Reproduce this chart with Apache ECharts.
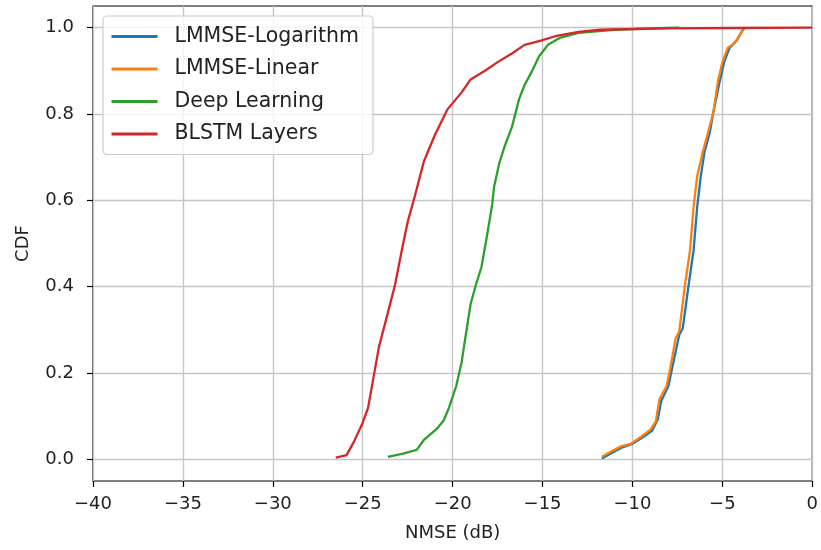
<!DOCTYPE html>
<html>
<head>
<meta charset="utf-8">
<script src="https://cdn.jsdelivr.net/npm/echarts@6/dist/echarts.min.js"></script>
<style>
  html, body { margin: 0; padding: 0; background: #fff; }
  #chart { width: 821px; height: 550px; }
</style>
</head>
<body>
<div id="chart"></div>
<script>
// series names
var seriesNames = ['LMMSE-Logarithm', 'LMMSE-Linear', 'Deep Learning', 'BLSTM Layers'];

// LMMSE-Logarithm (NMSE dB, CDF)
var logX = [-11.7, -11.1, -10.56, -10.0, -9.4, -8.9, -8.6, -8.4, -8.0, -7.8, -7.4, -7.2, -6.9, -6.6, -6.4, -6.2, -6.0, -5.7, -5.5, -5.15, -4.9, -4.6, -4.2, -3.85, -3.75];
var logY = [0.002, 0.016, 0.028, 0.036, 0.052, 0.067, 0.092, 0.135, 0.17, 0.21, 0.288, 0.304, 0.397, 0.484, 0.585, 0.656, 0.71, 0.757, 0.804, 0.875, 0.92, 0.953, 0.97, 0.996, 1.0];

// LMMSE-Linear
var linX = [-11.7, -11.2, -10.65, -10.1, -9.5, -9.0, -8.7, -8.5, -8.1, -7.9, -7.6, -7.4, -7.1, -6.8, -6.6, -6.4, -6.1, -5.8, -5.5, -5.25, -5.0, -4.7, -4.3, -3.9, -3.85];
var linY = [0.006, 0.018, 0.03, 0.036, 0.053, 0.069, 0.088, 0.139, 0.17, 0.21, 0.28, 0.296, 0.397, 0.484, 0.585, 0.656, 0.71, 0.757, 0.804, 0.875, 0.92, 0.953, 0.965, 0.992, 1.0];

// Deep Learning
var dlX = [-23.6, -22.7, -22.0, -21.6, -20.9, -20.5, -20.2, -19.8, -19.5, -19.3, -19.0, -18.7, -18.4, -18.1, -17.8, -17.7, -17.4, -17.1, -16.7, -16.3, -16.0, -15.6, -15.2, -14.7, -14.0, -13.0, -11.0, -9.0, -7.4];
var dlY = [0.006, 0.014, 0.022, 0.045, 0.07, 0.09, 0.12, 0.17, 0.225, 0.28, 0.36, 0.405, 0.445, 0.515, 0.59, 0.63, 0.687, 0.726, 0.77, 0.835, 0.867, 0.898, 0.933, 0.96, 0.977, 0.988, 0.995, 0.998, 1.0];

// BLSTM Layers
var blX = [-26.5, -25.9, -25.5, -25.0, -24.7, -24.4, -24.1, -23.6, -23.2, -22.8, -22.5, -22.1, -21.6, -21.0, -20.3, -19.5, -19.0, -18.2, -17.5, -16.7, -16.0, -15.1, -14.3, -13.0, -11.8, -8.0, -4.0, 0.0];
var blY = [0.004, 0.01, 0.04, 0.085, 0.12, 0.19, 0.26, 0.34, 0.405, 0.49, 0.55, 0.61, 0.69, 0.75, 0.81, 0.85, 0.88, 0.90, 0.92, 0.94, 0.96, 0.97, 0.98, 0.99, 0.995, 0.998, 0.999, 1.0];

var colors = ['#1f77b4', '#ff7f0e', '#2ca02c', '#d62728'];
var font = 'DejaVu Sans';

function pairs(xs, ys) {
    return xs.map(function (x, i) { return [x, ys[i]]; });
}

var curves = [pairs(logX, logY), pairs(linX, linY), pairs(dlX, dlY), pairs(blX, blY)];

var myChart = echarts.init(document.getElementById('chart'), null, { renderer: 'canvas' });

var option = {
    animation: false,
    backgroundColor: '#fff',
    color: colors,
    textStyle: { fontFamily: font },
    grid: [
        // data area, with the box around it
        { left: 93, right: 8, top: 6, bottom: 69, show: true, borderColor: '#000', borderWidth: 1.2, backgroundColor: 'transparent' },
        // 0..1 band, used only for the y ticks and horizontal grid lines
        { left: 93, right: 8, top: 27.6, bottom: 90.6 }
    ],
    xAxis: [
        {
            gridIndex: 0, type: 'value', min: -40, max: 0, interval: 5,
            name: 'NMSE (dB)', nameLocation: 'middle', nameGap: 43,
            nameTextStyle: { fontSize: 18, color: '#222', fontFamily: font },
            axisLine: { show: false, onZero: false },
            axisTick: { show: true, length: 6, lineStyle: { color: '#000', width: 1.2 } },
            axisLabel: { fontSize: 18, color: '#222', margin: 14, fontFamily: font,
                formatter: function (v) { return v < 0 ? '\u2212' + Math.abs(v) : String(v); } },
            splitLine: { show: true, lineStyle: { color: '#c6c6c6', width: 1.4 } }
        },
        { gridIndex: 1, type: 'value', min: -40, max: 0, show: false, axisLine: { onZero: false } }
    ],
    yAxis: [
        {
            gridIndex: 0, type: 'value', min: -0.05, max: 1.05,
            name: 'CDF', nameLocation: 'middle', nameGap: 61, nameRotate: 90,
            nameTextStyle: { fontSize: 18, color: '#222', fontFamily: font },
            axisLine: { show: false, onZero: false }, axisTick: { show: false },
            axisLabel: { show: false }, splitLine: { show: false }
        },
        {
            gridIndex: 1, type: 'value', min: 0, max: 1, interval: 0.2,
            axisLine: { show: false, onZero: false },
            axisTick: { show: true, length: 6, lineStyle: { color: '#000', width: 1.2 } },
            axisLabel: { fontSize: 18, color: '#222', margin: 19, fontFamily: font,
                formatter: function (v) { return v.toFixed(1); } },
            splitLine: { show: true, lineStyle: { color: '#c6c6c6', width: 1.4 } }
        }
    ],
    legend: {
        orient: 'vertical', left: 103, top: 16,
        data: seriesNames,
        itemWidth: 46, itemHeight: 20, itemGap: 11.5,
        padding: [10, 14, 10, 7],
        backgroundColor: 'rgba(255,255,255,0.8)',
        borderColor: '#cccccc', borderWidth: 1.2, borderRadius: 4,
        itemStyle: { opacity: 0 },
        lineStyle: { width: 3 },
        textStyle: { fontSize: 20.5, color: '#222', fontFamily: font, padding: [0, 0, 0, 12] }
    },
    series: seriesNames.map(function (name, i) {
        return {
            name: name, type: 'line', xAxisIndex: 0, yAxisIndex: 0,
            data: curves[i], showSymbol: false, symbol: 'none',
            lineStyle: { width: 2.3, color: colors[i] },
            itemStyle: { color: colors[i] }
        };
    })
};

myChart.setOption(option);
</script>
</body>
</html>
